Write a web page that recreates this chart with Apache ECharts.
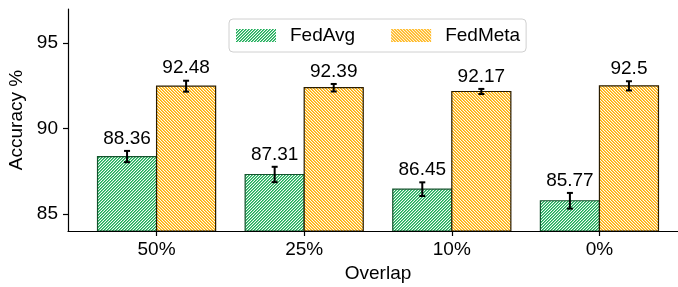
<!DOCTYPE html>
<html><head><meta charset="utf-8">
<script src="https://cdn.jsdelivr.net/npm/echarts@6/dist/echarts.min.js"></script>
<style>html,body{margin:0;padding:0;background:#fff}#c{width:678px;height:287px}</style>
</head><body><div id="c"></div>
<script>
const categories = ['50%', '25%', '10%', '0%'];
const seriesNames = ['FedAvg', 'FedMeta'];
const fedAvg = [88.36, 87.31, 86.45, 85.77];
const fedMeta = [92.48, 92.39, 92.17, 92.5];
const fedAvgErr = [0.33, 0.45, 0.40, 0.46];
const fedMetaErr = [0.32, 0.22, 0.15, 0.27];
const yTicks = [85, 90, 95];
const xTicks = [0, 1, 2, 3];

const FONT = '"Liberation Sans", Arial, Helvetica, sans-serif';
const FS = 19;
const Y_MIN = 84, Y_MAX = 97;

function hatch(rgb, dir) {
  const n = 3;
  const c = document.createElement('canvas');
  c.width = n; c.height = n;
  const ctx = c.getContext('2d');
  const img = ctx.createImageData(n, n);
  const cov = [1, 0.68, 0.05];
  for (let y = 0; y < n; y++) for (let x = 0; x < n; x++) {
    const k = dir === '/' ? (x + y) % n : ((x - y) % n + n) % n;
    const a = cov[k];
    const i = (y * n + x) * 4;
    img.data[i] = Math.round(rgb[0] * a + 255 * (1 - a));
    img.data[i + 1] = Math.round(rgb[1] * a + 255 * (1 - a));
    img.data[i + 2] = Math.round(rgb[2] * a + 255 * (1 - a));
    img.data[i + 3] = 255;
  }
  ctx.putImageData(img, 0, 0);
  return { image: c, repeat: 'repeat' };
}

const greenPat = hatch([28, 172, 88], '/');
const orangePat = hatch([255, 174, 0], '\\');
const greenEdge = '#14532d';
const orangeEdge = '#2a1c00';

function barRender(offset, fill, edge) {
  return function (params, api) {
    const x = api.value(0), y = api.value(1);
    const p0 = api.coord([x + offset - 0.2, y]);
    const p1 = api.coord([x + offset + 0.2, Y_MIN]);
    return {
      type: 'rect',
      shape: { x: p0[0], y: p0[1], width: p1[0] - p0[0], height: p1[1] - p0[1] },
      style: { fill: fill, stroke: edge, lineWidth: 1.2 }
    };
  };
}

function errRender(params, api) {
  const x = api.value(0), y = api.value(1), e = api.value(2);
  const top = api.coord([x, y + e]);
  const bot = api.coord([x, y - e]);
  const cx = top[0];
  const cap = 3;
  return {
    type: 'group',
    children: [
      { type: 'line', shape: { x1: cx, y1: top[1], x2: cx, y2: bot[1] }, style: { stroke: '#000', lineWidth: 2 } },
      { type: 'line', shape: { x1: cx - cap, y1: top[1], x2: cx + cap, y2: top[1] }, style: { stroke: '#000', lineWidth: 2 } },
      { type: 'line', shape: { x1: cx - cap, y1: bot[1], x2: cx + cap, y2: bot[1] }, style: { stroke: '#000', lineWidth: 2 } },
      { type: 'text', style: { text: String(y), x: cx, y: top[1] - 3, align: 'center', verticalAlign: 'bottom', textAlign: 'center', textVerticalAlign: 'bottom', fontSize: FS, fontFamily: FONT, fill: '#000' } }
    ]
  };
}

const errData = [];
fedAvg.forEach((v, i) => errData.push([i - 0.2, v, fedAvgErr[i]]));
fedMeta.forEach((v, i) => errData.push([i + 0.2, v, fedMetaErr[i]]));

const axisLineStyle = { color: '#000', width: 1.2 };
const chart = echarts.init(document.getElementById('c'), null, { renderer: 'canvas' });
chart.setOption({
  animation: false,
  backgroundColor: '#fff',
  textStyle: { fontFamily: FONT },
  grid: { left: 68, top: 9, width: 620, height: 222, containLabel: false, outerBoundsMode: 'none' },
  legend: {
    left: 229, top: 19,
    padding: [7, 6, 7, 7],
    itemWidth: 40, itemHeight: 13, itemGap: 36,
    borderColor: '#d0d0d0', borderWidth: 1, borderRadius: 4,
    backgroundColor: 'rgba(255,255,255,0.85)',
    icon: 'rect',
    textStyle: { fontSize: FS, fontFamily: FONT, color: '#000', padding: [0, 0, 0, 9] },
    data: [
      { name: seriesNames[0], itemStyle: { color: greenPat, borderWidth: 0 } },
      { name: seriesNames[1], itemStyle: { color: orangePat, borderWidth: 0 } }
    ]
  },
  xAxis: {
    type: 'value', min: -0.6, max: 3.6,
    name: 'Overlap', nameLocation: 'middle', nameGap: 31,
    nameTextStyle: { fontSize: FS, fontFamily: FONT, color: '#000' },
    axisLine: { show: true, onZero: false, lineStyle: axisLineStyle },
    axisTick: { show: true, length: 5, customValues: xTicks, lineStyle: axisLineStyle },
    axisLabel: { show: true, customValues: xTicks, formatter: v => categories[Math.round(v)], margin: 9, fontSize: FS, fontFamily: FONT, color: '#000' },
    splitLine: { show: false }
  },
  yAxis: {
    type: 'value', min: Y_MIN, max: Y_MAX,
    name: 'Accuracy %', nameLocation: 'middle', nameGap: 40,
    nameTextStyle: { fontSize: FS, fontFamily: FONT, color: '#000' },
    axisLine: { show: true, onZero: false, lineStyle: axisLineStyle },
    axisTick: { show: true, length: 5, customValues: yTicks, lineStyle: axisLineStyle },
    axisLabel: { show: true, customValues: yTicks, margin: 10, fontSize: FS, fontFamily: FONT, color: '#000' },
    splitLine: { show: false }
  },
  series: [
    {
      name: seriesNames[0], type: 'custom', clip: true,
      itemStyle: { color: greenPat, borderColor: greenEdge },
      renderItem: barRender(-0.2, greenPat, greenEdge),
      encode: { x: 0, y: 1 },
      data: fedAvg.map((v, i) => [i, v])
    },
    {
      name: seriesNames[1], type: 'custom', clip: true,
      itemStyle: { color: orangePat, borderColor: orangeEdge },
      renderItem: barRender(0.2, orangePat, orangeEdge),
      encode: { x: 0, y: 1 },
      data: fedMeta.map((v, i) => [i, v])
    },
    {
      name: 'err', type: 'custom', z: 5,
      renderItem: errRender,
      encode: { x: 0, y: 1 },
      data: errData
    }
  ]
});
</script></body></html>
